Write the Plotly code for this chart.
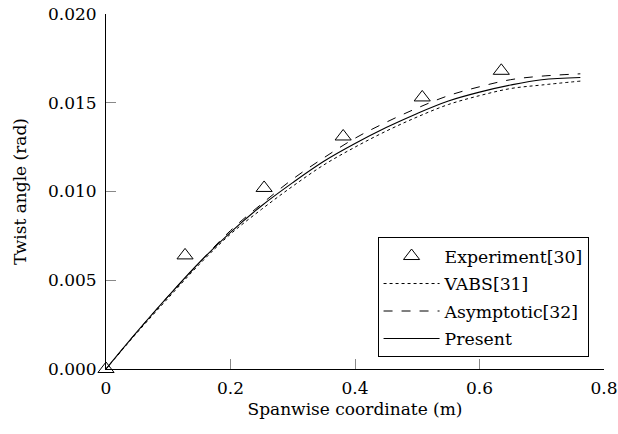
import plotly.graph_objects as go

# Experimental data
exp_x = [0.0, 0.127, 0.254, 0.381, 0.508, 0.635]
exp_y = [0.0, 0.0064, 0.0102, 0.0131, 0.0153, 0.0168]

# Curves
curve_x = [0.0, 0.05, 0.1, 0.15, 0.2, 0.25, 0.3, 0.35, 0.4, 0.45, 0.5, 0.55, 0.6, 0.65, 0.7, 0.762]
vabs_y = [0.0, 0.00205, 0.0040, 0.0059, 0.0076, 0.0090, 0.0103, 0.0115, 0.0125, 0.0134, 0.0142, 0.0149, 0.0154, 0.0158, 0.0160, 0.01622]
asym_y = [0.0, 0.00210, 0.0041, 0.0060, 0.0078, 0.0093, 0.0107, 0.0119, 0.0130, 0.0139, 0.0147, 0.0154, 0.0159, 0.0163, 0.0165, 0.01663]
pres_y = [0.0, 0.00210, 0.0041, 0.0060, 0.0077, 0.0092, 0.0105, 0.0117, 0.0127, 0.0136, 0.0144, 0.0151, 0.0156, 0.0160, 0.0163, 0.01642]

x_ticks = [0, 0.2, 0.4, 0.6, 0.8]
x_ticktext = ["0", "0.2", "0.4", "0.6", "0.8"]
y_ticks = [0.0, 0.005, 0.010, 0.015, 0.020]
y_ticktext = ["0.000", "0.005", "0.010", "0.015", "0.020"]

FONT = "DejaVu Serif"

fig = go.Figure()
fig.add_trace(go.Scatter(
    x=exp_x, y=exp_y, mode="markers", name="Experiment[30]", legendgroup="a",
    marker=dict(symbol="triangle-up-open", size=14, color="black", line=dict(width=1, color="black")),
    cliponaxis=False,
))
fig.add_trace(go.Scatter(
    x=curve_x, y=vabs_y, mode="lines", name="VABS[31]", legendgroup="b",
    line=dict(color="black", width=1, dash="dot", shape="spline"),
))
fig.add_trace(go.Scatter(
    x=curve_x, y=asym_y, mode="lines", name="Asymptotic[32]", legendgroup="c",
    line=dict(color="black", width=1, dash="dash", shape="spline"),
))
fig.add_trace(go.Scatter(
    x=curve_x, y=pres_y, mode="lines", name="Present", legendgroup="d",
    line=dict(color="black", width=1.1, shape="spline"),
))

fig.update_layout(
    width=618, height=434,
    margin=dict(l=106, r=14, t=14, b=65, autoexpand=False),
    paper_bgcolor="white", plot_bgcolor="white",
    font=dict(family=FONT, size=17, color="black"),
    hovermode=False,
    legend=dict(
        x=0.969, y=0.033, xanchor="right", yanchor="bottom",
        bordercolor="black", borderwidth=1, bgcolor="white",
        font=dict(family=FONT, size=17.3, color="black"),
        traceorder="grouped", tracegroupgap=2, itemwidth=56,
    ),
)
fig.update_xaxes(
    range=[0, 0.8], tickvals=x_ticks, ticktext=x_ticktext, automargin=False,
    showgrid=False, zeroline=False, showline=True, linecolor="black", linewidth=1,
    ticks="inside", ticklen=10, tickcolor="#888888", tickwidth=1, ticklabelstandoff=4,
    title=dict(text="Spanwise coordinate (m)", font=dict(family=FONT, size=17), standoff=5),
)
fig.update_yaxes(
    range=[0, 0.020], tickvals=y_ticks, ticktext=y_ticktext, automargin=False,
    showgrid=False, zeroline=False, showline=True, linecolor="black", linewidth=1,
    ticks="inside", ticklen=10, tickcolor="#888888", tickwidth=1, ticklabelstandoff=5,
    title=dict(text="Twist angle (rad)", font=dict(family=FONT, size=17), standoff=16),
)

fig.write_html("out.html", config={"displayModeBar": False},
               post_script="document.body.style.margin='0';")
